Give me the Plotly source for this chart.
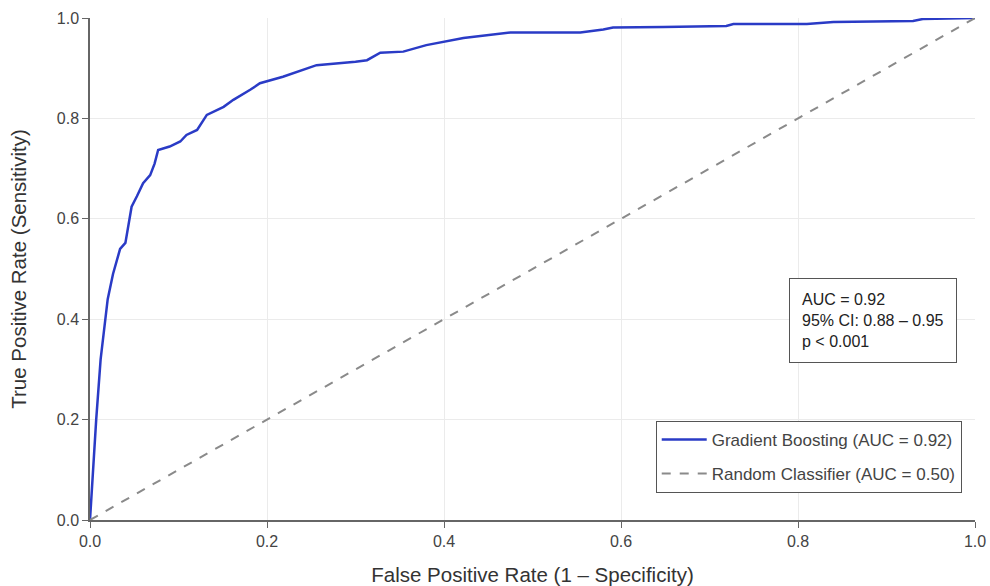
import plotly.graph_objects as go

fpr = [0, 0.002, 0.004, 0.007, 0.012, 0.017, 0.020, 0.026, 0.034, 0.040, 0.047, 0.053,
       0.060, 0.068, 0.073, 0.077, 0.090, 0.102, 0.109, 0.121, 0.132, 0.151, 0.162, 0.181,
       0.192, 0.218, 0.256, 0.300, 0.313, 0.328, 0.354, 0.380, 0.422, 0.475, 0.554, 0.580,
       0.591, 0.648, 0.719, 0.727, 0.81, 0.84, 0.93, 0.941, 1.0]
tpr = [0, 0.06, 0.10, 0.20, 0.32, 0.40, 0.44, 0.49, 0.54, 0.552, 0.624, 0.645,
       0.671, 0.687, 0.71, 0.737, 0.744, 0.754, 0.767, 0.777, 0.807, 0.823, 0.837, 0.857,
       0.870, 0.883, 0.906, 0.913, 0.916, 0.931, 0.933, 0.946, 0.960, 0.971, 0.971, 0.977,
       0.981, 0.982, 0.984, 0.988, 0.988, 0.992, 0.994, 0.998, 1.0]
diag = [0, 1]
tick_vals = [0, 0.2, 0.4, 0.6, 0.8, 1.0]
stats_lines = ["AUC = 0.92", "95% CI: 0.88 – 0.95", "p < 0.001"]

FONT = "Liberation Sans, Arial, sans-serif"

fig = go.Figure()
fig.add_trace(go.Scatter(x=fpr, y=tpr, mode="lines", name="Gradient Boosting (AUC = 0.92)",
                         line=dict(color="#2a3bc6", width=2.5), legendgroup="a"))
fig.add_trace(go.Scatter(x=diag, y=diag, mode="lines", name="Random Classifier (AUC = 0.50)",
                         line=dict(color="#8a8a8a", width=2, dash="dash"), legendgroup="b"))

fig.add_annotation(x=0.790, y=0.398, xref="x", yref="y", xanchor="left", yanchor="middle",
                   text="<br>".join(stats_lines), showarrow=False, align="left",
                   font=dict(family=FONT, size=16, color="#222"),
                   bordercolor="#555", borderwidth=1, borderpad=12, bgcolor="white")

axis_common = dict(range=[0, 1], tickvals=tick_vals, tickformat=".1f",
                   showgrid=True, gridcolor="#ebebeb", gridwidth=1,
                   showline=True, linecolor="#666", linewidth=1.5,
                   ticks="outside", ticklen=6, tickcolor="#666",
                   tickfont=dict(family=FONT, size=16, color="#444"),
                   zeroline=False, automargin=False)

fig.update_layout(
    width=990, height=586,
    margin=dict(l=90, r=15, t=18, b=66),
    paper_bgcolor="white", plot_bgcolor="white",
    xaxis=dict(**axis_common, title=dict(text="False Positive Rate (1 – Specificity)",
                                         font=dict(family=FONT, size=20.5, color="#333"), standoff=19)),
    yaxis=dict(**axis_common, title=dict(text="True Positive Rate (Sensitivity)",
                                         font=dict(family=FONT, size=20.5, color="#333"), standoff=25)),
    legend=dict(x=0.985, y=0.054, xanchor="right", yanchor="bottom",
                bordercolor="#555", borderwidth=1, bgcolor="white",
                font=dict(family=FONT, size=17, color="#444"),
                tracegroupgap=9, itemwidth=45),
    showlegend=True,
)

fig.write_html("out.html", config={"displayModeBar": False},
               post_script="document.body.style.margin='0';document.body.style.overflow='hidden';")
